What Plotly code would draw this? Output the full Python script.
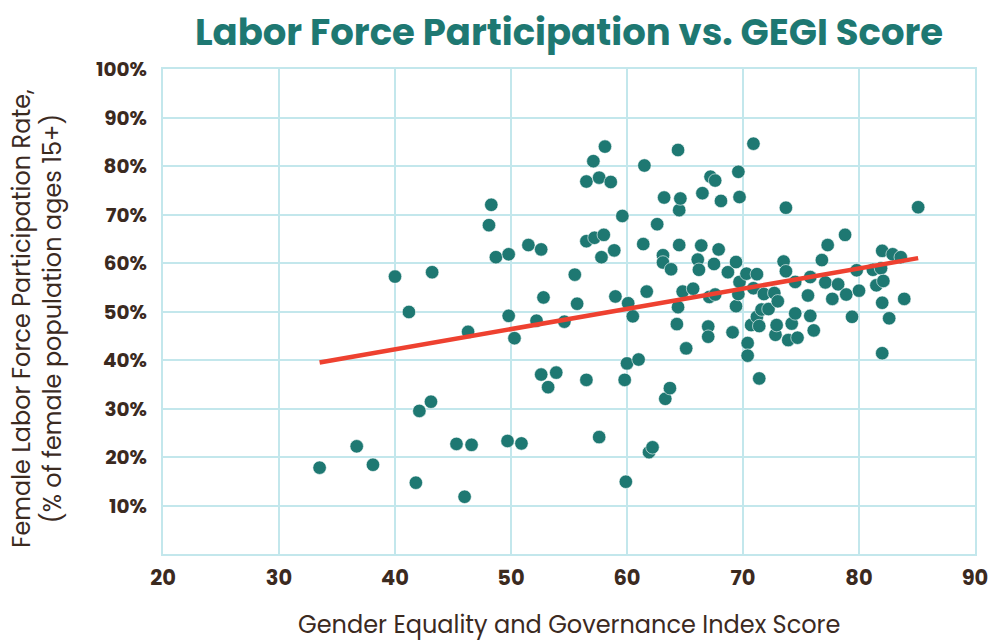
import plotly.graph_objects as go

# GEGI score (x) and female labor force participation rate in % (y)
gegi_score = [
    33.5, 36.7, 38.1, 40.0, 41.2, 41.8, 42.1, 43.1, 43.2, 45.3,
    46.0, 46.3, 46.6, 48.1, 48.3, 48.7, 49.8, 49.8, 49.7, 50.3,
    50.9, 51.5, 52.6, 52.2, 52.8, 52.6, 53.2, 53.9, 54.6, 55.5,
    55.7, 56.5, 56.5, 57.1, 57.6, 58.6, 58.1, 56.5, 57.2, 58.0,
    57.8, 58.9, 57.6, 59.6, 59.0, 59.8, 59.9, 60.0, 60.1, 60.5,
    61.0, 61.4, 61.5, 61.7, 61.9, 62.2, 62.6, 63.1, 63.1, 63.2,
    63.3, 63.7, 63.8, 64.3, 64.4, 64.4, 64.5, 64.6, 64.5, 64.8,
    65.1, 65.7, 66.1, 66.2, 66.4, 66.5, 67.0, 67.0, 67.1, 67.2,
    67.5, 67.6, 67.6, 67.9, 68.1, 68.7, 69.1, 69.4, 69.4, 69.6,
    69.6, 69.7, 69.7, 70.3, 70.4, 70.4, 70.7, 70.9, 70.9, 71.2,
    71.2, 71.4, 71.4, 71.6, 71.8, 72.2, 72.7, 72.8, 72.9, 73.0,
    73.5, 73.7, 73.7, 73.9, 74.2, 74.5, 74.5, 74.7, 75.6, 75.8,
    75.8, 76.1, 76.8, 77.1, 77.3, 77.7, 78.2, 78.8, 78.9, 79.4,
    79.8, 80.0, 81.2, 81.5, 81.9, 82.0, 82.1, 82.0, 82.0, 82.6,
    82.9, 83.6, 83.9, 85.1,
]
female_lfpr = [
    17.8, 22.2, 18.4, 57.2, 49.9, 14.7, 29.5, 31.4, 58.1, 22.7,
    11.8, 45.8, 22.5, 67.8, 72.0, 61.2, 61.8, 49.1, 23.3, 44.5,
    22.8, 63.7, 62.8, 48.1, 52.9, 37.0, 34.4, 37.4, 47.9, 57.6,
    51.6, 35.9, 76.8, 81.0, 77.6, 76.7, 84.0, 64.5, 65.2, 65.8,
    61.2, 62.6, 24.1, 69.7, 53.1, 35.9, 14.9, 39.3, 51.7, 49.0,
    40.1, 63.9, 80.1, 54.1, 21.0, 22.0, 68.0, 61.6, 60.1, 73.5,
    32.0, 34.2, 58.7, 47.4, 50.9, 83.3, 70.9, 73.3, 63.7, 54.1,
    42.4, 54.7, 60.7, 58.6, 63.6, 74.4, 46.9, 44.8, 53.0, 77.8,
    59.8, 77.0, 53.5, 62.8, 72.8, 58.1, 45.7, 60.2, 51.1, 53.6,
    78.8, 73.6, 56.1, 57.8, 43.5, 40.9, 47.2, 84.6, 54.8, 57.7,
    48.9, 47.0, 36.2, 50.4, 53.6, 50.5, 53.8, 45.2, 47.2, 52.1,
    60.3, 58.3, 71.4, 44.1, 47.5, 49.6, 56.1, 44.6, 53.3, 49.1,
    57.1, 46.1, 60.6, 56.0, 63.7, 52.6, 55.6, 65.8, 53.5, 48.9,
    58.5, 54.3, 58.6, 55.4, 58.9, 62.5, 56.3, 51.8, 41.4, 48.6,
    61.8, 61.2, 52.6, 71.5,
]

# Trend line end points
trend_x = [33.5, 85.1]
trend_y = [39.5, 61.0]

x_ticks = [20, 30, 40, 50, 60, 70, 80, 90]
y_ticks = [10, 20, 30, 40, 50, 60, 70, 80, 90, 100]
y_tick_labels = [f"{v}%" for v in y_ticks]

TEAL = "#1e7872"
BROWN = "#3b2a1f"
GRID = "#c3e7ec"
FONT = "Poppins, Lato, 'Open Sans', sans-serif"

fig = go.Figure()
fig.add_trace(go.Scatter(
    x=gegi_score, y=female_lfpr, mode="markers",
    marker=dict(size=13.5, color=TEAL, line=dict(width=0.6, color="white")),
    showlegend=False, hoverinfo="x+y",
))
fig.add_trace(go.Scatter(
    x=trend_x, y=trend_y, mode="lines",
    line=dict(color="#ee4130", width=4.5),
    showlegend=False, hoverinfo="skip",
))

fig.update_layout(
    width=1000, height=644,
    margin=dict(l=163, r=14, t=69, b=90),
    paper_bgcolor="white", plot_bgcolor="white",
    font=dict(family=FONT, color=BROWN),
    title=dict(
        text="<b>Labor Force Participation vs. GEGI Score</b>",
        x=0.5, xref="paper", xanchor="center",
        y=1 - 32 / 644, yref="container", yanchor="middle",
        font=dict(size=37, color=TEAL, family=FONT),
    ),
)

fig.update_xaxes(
    range=[20, 90], tickvals=x_ticks,
    showgrid=True, gridcolor=GRID, gridwidth=2,
    showline=True, linecolor=GRID, linewidth=2, mirror=True,
    zeroline=False, ticks="outside", ticklen=4, tickcolor="rgba(0,0,0,0)",
    tickfont=dict(size=21, color=BROWN, family=FONT, weight="bold"),
)
fig.update_yaxes(
    range=[0, 100], tickvals=y_ticks, ticktext=y_tick_labels,
    showgrid=True, gridcolor=GRID, gridwidth=2,
    showline=True, linecolor=GRID, linewidth=2, mirror=True,
    zeroline=False, ticks="outside", ticklen=10, tickcolor="rgba(0,0,0,0)",
    tickfont=dict(size=20, color=BROWN, family=FONT, weight="bold"),
)

fig.add_annotation(
    text="Gender Equality and Governance Index Score",
    xref="paper", yref="paper", x=0.5, y=(554 - 643) / 485,
    xanchor="center", yanchor="bottom", showarrow=False,
    font=dict(size=24, color=BROWN, family=FONT),
)
fig.add_annotation(
    text="Female Labor Force Participation Rate,<br>(% of female population ages 15+)",
    xref="paper", yref="paper", x=(35 - 163) / 823, y=(554 - 318) / 485,
    xanchor="center", yanchor="middle", showarrow=False, textangle=-90,
    font=dict(size=24, color=BROWN, family=FONT),
)

fig.write_html("out.html", config={"displayModeBar": False},
               post_script="document.body.style.margin='0';")
